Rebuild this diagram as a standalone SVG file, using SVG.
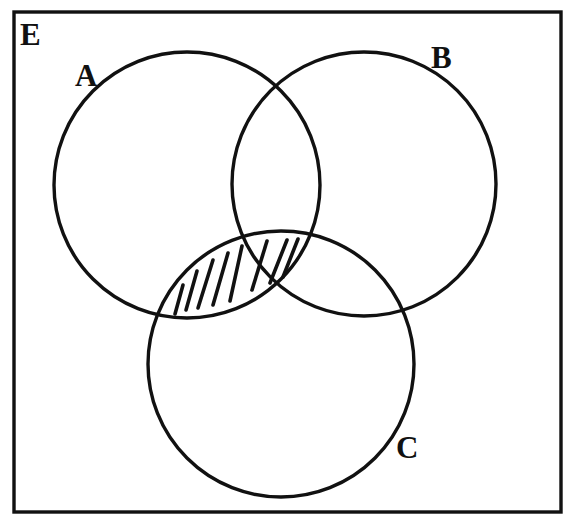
<svg xmlns="http://www.w3.org/2000/svg" width="570" height="521" viewBox="0 0 570 521">
<style>
.c{fill:none;stroke:#111;stroke-width:3.4}
.h{fill:none;stroke:#111;stroke-width:3.6;stroke-linecap:round}
.t{font-family:"Liberation Serif","Times New Roman",serif;font-weight:bold;font-size:31px;fill:#111}
</style>
<rect x="0" y="0" width="570" height="521" fill="#fff"/>
<g id="E">
<rect class="c" x="14" y="12" width="547" height="500"/>
<text class="t" x="20" y="45">E</text>
</g>
<g id="A">
<circle class="c" cx="187" cy="185" r="133"/>
<text class="t" x="75" y="86">A</text>
</g>
<g id="B">
<circle class="c" cx="364" cy="184" r="132"/>
<text class="t" x="431" y="68">B</text>
</g>
<g id="C">
<circle class="c" cx="281" cy="364" r="133"/>
<text class="t" x="396" y="458">C</text>
</g>
<g id="hatch">
<path class="h" d="M175 314 L183 285"/>
<path class="h" d="M186 310 L197 271"/>
<path class="h" d="M198 308 L213 260"/>
<path class="h" d="M213 305 L228 253"/>
<path class="h" d="M230 301 L242 246"/>
<path class="h" d="M252 290 L267 241"/>
<path class="h" d="M270 283 L287 240"/>
<path class="h" d="M283 277 L298 239"/>
</g>
</svg>
